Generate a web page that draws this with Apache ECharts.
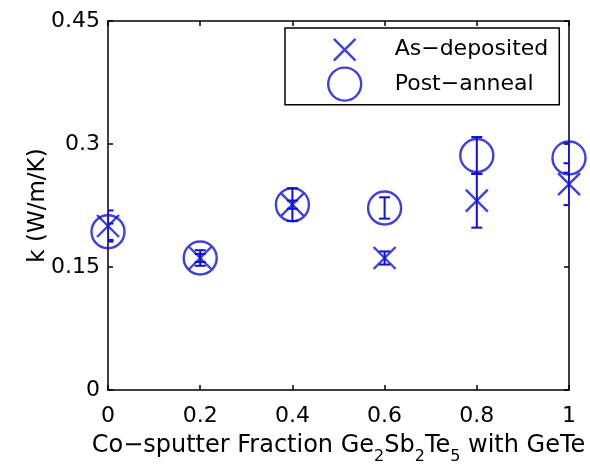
<!DOCTYPE html>
<html><head><meta charset="utf-8">
<script src="https://cdn.jsdelivr.net/npm/echarts@6/dist/echarts.min.js"></script>
<style>html,body{margin:0;padding:0;background:#fff}#c{width:590px;height:470px}</style>
</head><body><div id="c"></div>
<script>
// ---- data ----
const fractions = [0, 0.2, 0.4, 0.6, 0.8, 1];
const asDeposited = [0.200, 0.161, 0.226, 0.161, 0.231, 0.251];
const asDepositedErr = [0.019, 0.0095, 0.020, 0.008, 0.033, 0.0255];
const postAnneal = [0.193, 0.161, 0.226, 0.222, 0.286, 0.283];
const postAnnealErr = [0.010, 0.005, 0.005, 0.013, 0.0225, 0.018];
const xTicks = [0, 0.2, 0.4, 0.6, 0.8, 1];
const yTicks = [0, 0.15, 0.3, 0.45];
const seriesNames = ['As\u2212deposited', 'Post\u2212anneal'];

const BLUE = '#1010d4';
const FONT = 'DejaVu Sans';

const asDepPts = fractions.map((x, i) => [x, asDeposited[i]]);
const postPts = fractions.map((x, i) => [x, postAnneal[i]]);
const asDepBars = fractions.map((x, i) => [x, asDeposited[i] - asDepositedErr[i], asDeposited[i] + asDepositedErr[i]]);
const postBars = fractions.map((x, i) => [x, postAnneal[i] - postAnnealErr[i], postAnneal[i] + postAnnealErr[i]]);

function errRender(params, api) {
  const x = api.value(0), lo = api.value(1), hi = api.value(2);
  const pHi = api.coord([x, hi]);
  const pLo = api.coord([x, lo]);
  const w = 5.5;
  const st = { stroke: BLUE, lineWidth: 2, fill: null };
  return {
    type: 'group',
    children: [
      { type: 'line', shape: { x1: pHi[0], y1: pHi[1], x2: pLo[0], y2: pLo[1] }, style: st },
      { type: 'line', shape: { x1: pHi[0] - w, y1: pHi[1], x2: pHi[0] + w, y2: pHi[1] }, style: st },
      { type: 'line', shape: { x1: pLo[0] - w, y1: pLo[1], x2: pLo[0] + w, y2: pLo[1] }, style: st }
    ]
  };
}

const CROSS = 'path://M0,0L10,10M10,0L0,10';
const CROSS_LEG = 'path://M-2.6,-2.6M12.6,12.6M0,0L10,10M10,0L0,10';

const axisCommon = {
  type: 'value',
  axisLine: { show: true, onZero: false, lineStyle: { color: '#000', width: 1.5 } },
  axisTick: { show: true, inside: true, length: 5, lineStyle: { color: '#000', width: 1.5 } },
  splitLine: { show: false }
};

const chart = echarts.init(document.getElementById('c'), null, { renderer: 'canvas' });
chart.setOption({
  backgroundColor: '#fff',
  animation: false,
  grid: { left: 108, right: 21, top: 21, bottom: 78, containLabel: false },
  xAxis: [
    Object.assign({}, axisCommon, {
      position: 'bottom', min: xTicks[0], max: xTicks[xTicks.length - 1], interval: 0.2,
      axisLabel: { color: '#000', fontFamily: FONT, fontSize: 22, margin: 15 },
      name: '{a|Co\u2212sputter Fraction Ge}{b|2}{a|Sb}{b|2}{a|Te}{b|5}{a| with GeTe}',
      nameLocation: 'middle', nameGap: 44, nameMoveOverlap: false,
      nameTextStyle: {
        color: '#000', fontFamily: FONT, fontSize: 24,
        rich: {
          a: { color: '#000', fontFamily: FONT, fontSize: 24, verticalAlign: 'top' },
          b: { color: '#000', fontFamily: FONT, fontSize: 16, lineHeight: 31, verticalAlign: 'bottom' }
        }
      }
    }),
    Object.assign({}, axisCommon, {
      position: 'top', min: xTicks[0], max: xTicks[xTicks.length - 1], interval: 0.2,
      axisLabel: { show: false }
    })
  ],
  yAxis: [
    Object.assign({}, axisCommon, {
      position: 'left', min: yTicks[0], max: yTicks[yTicks.length - 1], interval: 0.15,
      axisLabel: { color: '#000', fontFamily: FONT, fontSize: 22, margin: 8 },
      name: 'k (W/m/K)', nameLocation: 'middle', nameGap: 58, nameMoveOverlap: false,
      nameTextStyle: { color: '#000', fontFamily: FONT, fontSize: 23 }
    }),
    Object.assign({}, axisCommon, {
      position: 'right', min: yTicks[0], max: yTicks[yTicks.length - 1], interval: 0.15,
      axisLabel: { show: false }
    })
  ],
  legend: {
    orient: 'vertical', left: 285, top: 28,
    padding: [4, 11, 3, 42],
    borderColor: '#000', borderWidth: 1.5, backgroundColor: '#fff',
    itemWidth: 90, itemHeight: 33, itemGap: -1,
    symbolKeepAspect: true,
    textStyle: { color: '#000', fontFamily: FONT, fontSize: 22 },
    data: [
      { name: seriesNames[0], icon: CROSS_LEG, itemStyle: { color: 'transparent', borderColor: BLUE, borderWidth: 2.4 } },
      { name: seriesNames[1], icon: 'circle', itemStyle: { color: 'transparent', borderColor: BLUE, borderWidth: 2.4 } }
    ]
  },
  series: [
    {
      name: 'errAsDep', type: 'custom', renderItem: errRender, data: asDepBars,
      clip: true, encode: { x: 0, y: [1, 2] }, z: 2
    },
    {
      name: 'errPost', type: 'custom', renderItem: errRender, data: postBars,
      clip: true, encode: { x: 0, y: [1, 2] }, z: 2
    },
    {
      name: seriesNames[0], type: 'scatter', data: asDepPts,
      symbol: CROSS, symbolSize: 22,
      itemStyle: { color: 'transparent', borderColor: BLUE, borderWidth: 2.4 }, z: 3
    },
    {
      name: seriesNames[1], type: 'scatter', data: postPts,
      symbol: 'circle', symbolSize: 33,
      itemStyle: { color: 'transparent', borderColor: BLUE, borderWidth: 2.4 }, z: 3
    }
  ]
});
</script>
</body></html>
